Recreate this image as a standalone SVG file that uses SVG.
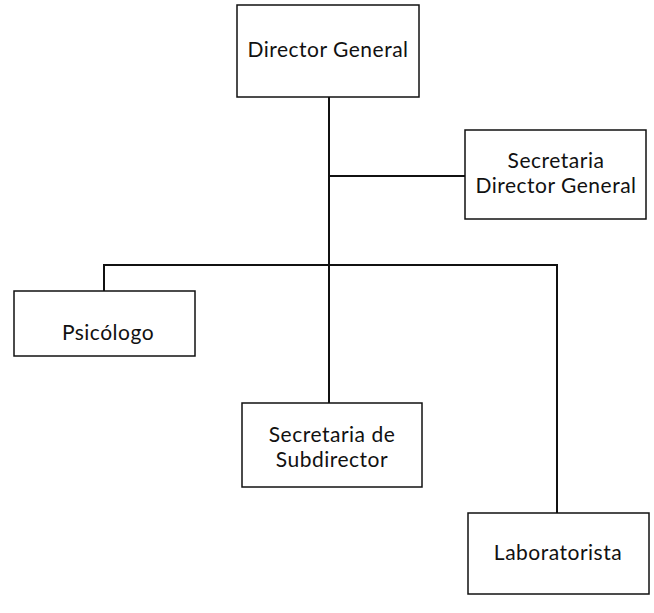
<svg xmlns="http://www.w3.org/2000/svg" width="654" height="613" viewBox="0 0 654 613">
<style>
.box{fill:#fff;stroke:#111;stroke-width:1.5}
.t{font-family:Lato,"Open Sans",sans-serif;font-size:21px;letter-spacing:0.5px;fill:#111;text-anchor:middle}
.c{fill:none;stroke:#111;stroke-width:2}
</style>
<rect width="654" height="613" fill="#fff"/>
<g id="connectors">
<line class="c" x1="329" y1="97" x2="329" y2="403"/>
<line class="c" x1="329" y1="176" x2="465" y2="176"/>
<polyline class="c" points="104,291 104,265 557,265 557,513"/>
</g>
<g id="director-general">
<rect class="box" x="237" y="5" width="182" height="92"/>
<text class="t" x="328" y="57">Director General</text>
</g>
<g id="secretaria-dg">
<rect class="box" x="465" y="130" width="181" height="89"/>
<text class="t" x="556" y="168">Secretaria</text>
<text class="t" x="556" y="193">Director General</text>
</g>
<g id="psicologo">
<rect class="box" x="14" y="291" width="181" height="65"/>
<text class="t" x="108" y="340">Psicólogo</text>
</g>
<g id="secretaria-sub">
<rect class="box" x="242" y="403" width="180" height="84"/>
<text class="t" x="332" y="442">Secretaria de</text>
<text class="t" x="332" y="467">Subdirector</text>
</g>
<g id="laboratorista">
<rect class="box" x="468" y="513" width="181" height="81"/>
<text class="t" x="558" y="560">Laboratorista</text>
</g>
</svg>
